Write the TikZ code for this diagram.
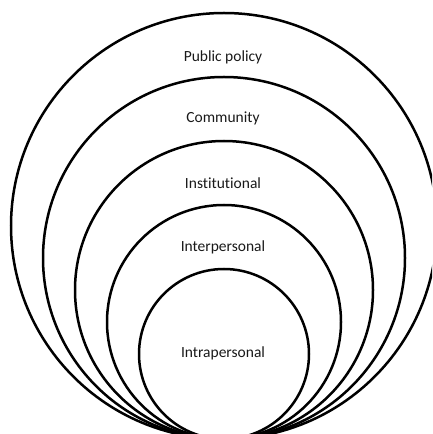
\documentclass[tikz,border=0pt]{standalone}
\usepackage{fontspec}
\setmainfont[Ligatures=NoCommon]{Carlito}
\begin{document}
\begin{tikzpicture}[x=1pt,y=1pt,
  ringline/.style={draw=black,line width=2.5pt},
  lbl/.style={font=\fontsize{15.5}{18}\selectfont,text=black!90,inner sep=0pt}]
\useasboundingbox (0,0) rectangle (432,434);
\clip (0,0) rectangle (432,434);
\coordinate (tp) at (224,-5);
\draw[ringline] (tp) ++(0,213) circle[radius=213];
\draw[ringline] (tp) ++(0,181) circle[radius=181];
\draw[ringline] (tp) ++(0,149) circle[radius=149];
\draw[ringline] (tp) ++(0,117) circle[radius=117];
\draw[ringline] (tp) ++(0,85) circle[radius=85];
\node[lbl] (pp) at (223,377) {Public policy};
\node[lbl] (cm) at (223,316) {Community};
\node[lbl] (in) at (223,251) {Institutional};
\node[lbl] (ip) at (223,187) {Interpersonal};
\node[lbl] (ia) at (223,81) {Intrapersonal};
\end{tikzpicture}
\end{document}
